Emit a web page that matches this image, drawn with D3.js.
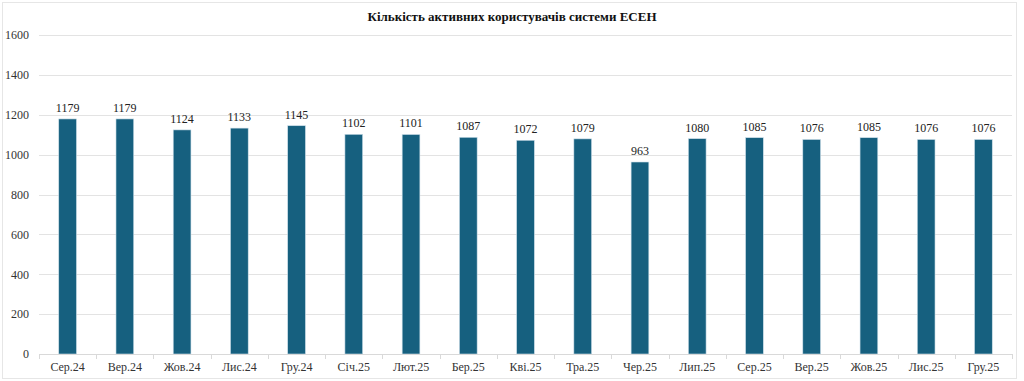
<!DOCTYPE html>
<html>
<head>
<meta charset="utf-8">
<script src="https://cdn.jsdelivr.net/npm/d3@7"></script>
<style>
  body { margin: 0; background: #fff; }
  text { font-family: "Liberation Serif", "DejaVu Serif", serif; }
</style>
</head>
<body>
<svg width="1024" height="381"></svg>
<script>
// Data
var months = ["Сер.24", "Вер.24", "Жов.24", "Лис.24", "Гру.24", "Січ.25", "Лют.25", "Бер.25", "Кві.25",
              "Тра.25", "Чер.25", "Лип.25", "Сер.25", "Вер.25", "Жов.25", "Лис.25", "Гру.25"];
var users = [1179, 1179, 1124, 1133, 1145, 1102, 1101, 1087, 1072, 1079, 963, 1080, 1085, 1076, 1085, 1076, 1076];
var yTicks = [0, 200, 400, 600, 800, 1000, 1200, 1400, 1600];
var title = "Кількість активних користувачів системи ЕСЕН";

var margin = {top: 35, right: 12, bottom: 27, left: 39},
    width = 1024 - margin.left - margin.right,
    height = 381 - margin.top - margin.bottom;

var svg = d3.select("svg");

// outer frame
svg.append("rect")
    .attr("x", 2.5).attr("y", 2.5)
    .attr("width", 1014).attr("height", 376)
    .attr("fill", "#fff")
    .attr("stroke", "#e6e6e6");

svg.append("text")
    .attr("x", 512).attr("y", 21)
    .attr("text-anchor", "middle")
    .style("font-size", "13px")
    .style("font-weight", "bold")
    .attr("fill", "#111")
    .text(title);

var g = svg.append("g")
    .attr("transform", "translate(" + margin.left + "," + margin.top + ")");

var xScale = d3.scaleBand()
    .domain(months)
    .range([0, width])
    .paddingInner(0.69)
    .paddingOuter(0.345);

var yScale = d3.scaleLinear()
    .domain([0, 1600])
    .range([height, 0]);

// gridlines
g.append("g")
    .selectAll("line")
    .data(yTicks)
    .enter()
    .append("line")
    .attr("x1", 0).attr("x2", width)
    .attr("y1", function(d) { return Math.round(yScale(d)) + 0.5; })
    .attr("y2", function(d) { return Math.round(yScale(d)) + 0.5; })
    .attr("stroke", "#e3e3e3");

// y axis labels
var y_axis = d3.axisLeft(yScale).tickValues(yTicks).tickFormat(d3.format("d")).tickSize(0).tickPadding(10);
g.append("g")
    .call(y_axis)
    .call(function(a) {
        a.select(".domain").remove();
        a.selectAll("text")
            .attr("fill", "#333")
            .style("font-size", "12px")
            .style("font-family", "Liberation Serif, serif");
    });

// bars
g.append("g")
    .selectAll("rect")
    .data(users)
    .enter()
    .append("rect")
    .attr("x", function(d, i) { return xScale(months[i]); })
    .attr("y", function(d) { return yScale(d); })
    .attr("width", xScale.bandwidth())
    .attr("height", function(d) { return height - yScale(d); })
    .attr("fill", "#16607f")
    .attr("stroke", "#cfe0ea")
    .attr("stroke-width", 0.6);

// value labels
g.append("g")
    .selectAll("text")
    .data(users)
    .enter()
    .append("text")
    .attr("x", function(d, i) { return xScale(months[i]) + xScale.bandwidth() / 2; })
    .attr("y", function(d) { return yScale(d) - 7; })
    .attr("text-anchor", "middle")
    .attr("fill", "#222")
    .style("font-size", "12px")
    .text(function(d) { return d; });

// x axis with ticks between categories
var xAxisG = g.append("g")
    .attr("transform", "translate(0," + height + ")");

xAxisG.append("line")
    .attr("x1", 0).attr("x2", width)
    .attr("y1", 0.5).attr("y2", 0.5)
    .attr("stroke", "#d9d9d9");

var step = xScale.step();
xAxisG.selectAll(".sep")
    .data(d3.range(months.length + 1))
    .enter()
    .append("line")
    .attr("x1", function(i) { return Math.round(i * step) + 0.5; })
    .attr("x2", function(i) { return Math.round(i * step) + 0.5; })
    .attr("y1", 0).attr("y2", 5)
    .attr("stroke", "#d9d9d9");

xAxisG.selectAll(".lbl")
    .data(months)
    .enter()
    .append("text")
    .attr("x", function(d) { return xScale(d) + xScale.bandwidth() / 2; })
    .attr("y", 17)
    .attr("text-anchor", "middle")
    .attr("fill", "#333")
    .style("font-size", "12px")
    .text(function(d) { return d; });
</script>
</body>
</html>
